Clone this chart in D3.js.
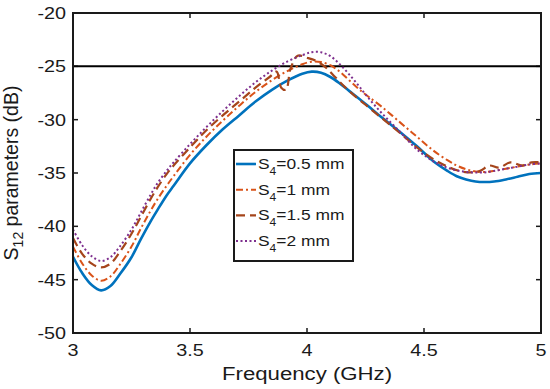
<!DOCTYPE html>
<html>
<head>
<meta charset="utf-8">
<script src="https://cdn.jsdelivr.net/npm/d3@7"></script>
<style>
  html, body { margin: 0; padding: 0; background: #fff; }
  text { font-family: "Liberation Sans", Arial, sans-serif; fill: #1a1a1a; }
</style>
</head>
<body>
<div id="chart"></div>
<script>
const WIDTH = 550;
const HEIGHT = 389;

// frequency grid (GHz) shared by three of the series
const freq = [3.00, 3.04, 3.08, 3.12, 3.16, 3.20, 3.25, 3.29, 3.33, 3.36, 3.40, 3.43, 3.50, 3.57, 3.64, 3.71, 3.78, 3.85, 3.92, 3.98,
              4.02, 4.06, 4.10, 4.14, 4.18, 4.22, 4.26, 4.32, 4.40, 4.47, 4.54, 4.60, 4.64, 4.68, 4.72, 4.76, 4.80, 4.85, 4.90, 4.95, 5.00];

const s4_05 = [-42.85, -44.4, -45.5, -46.0, -45.6, -44.5, -42.9, -41.2, -39.6, -38.5, -37.1, -36.2, -34.1, -32.4, -30.9, -29.6, -28.3, -27.2, -26.3, -25.7,
               -25.5, -25.6, -26.0, -26.6, -27.3, -28.0, -28.7, -29.8, -31.2, -32.5, -33.9, -34.8, -35.3, -35.6, -35.8, -35.85, -35.8, -35.6, -35.35, -35.1, -35.0];

const s4_1 = [-41.9, -43.5, -44.6, -45.1, -44.7, -43.6, -41.9, -40.2, -38.6, -37.5, -36.2, -35.3, -33.3, -31.6, -30.1, -28.7, -27.4, -26.3, -25.4, -24.8,
              -24.56, -24.6, -24.9, -25.5, -26.3, -27.1, -27.8, -28.8, -30.3, -31.6, -32.9, -33.8, -34.3, -34.65, -34.85, -34.9, -34.8, -34.6, -34.4, -34.2, -34.1];

const s4_2 = [-40.3, -41.8, -42.8, -43.25, -42.9, -41.9, -40.3, -38.7, -37.1, -36.0, -34.8, -34.0, -32.3, -30.7, -29.2, -27.8, -26.5, -25.4, -24.5, -23.95,
              -23.68, -23.68, -24.05, -24.8, -25.75, -26.8, -27.9, -29.4, -31.2, -32.8, -33.9, -34.5, -34.75, -34.9, -34.95, -34.95, -34.8, -34.6, -34.4, -34.2, -34.1];

// S4 = 1.5 mm has its own grid (small dip near 3.9 GHz)
const freq15 = [3.00, 3.04, 3.08, 3.12, 3.16, 3.20, 3.25, 3.29, 3.33, 3.36, 3.40, 3.43, 3.50, 3.57, 3.64, 3.71, 3.78, 3.84, 3.87, 3.89, 3.91, 3.93, 3.96,
                4.00, 4.04, 4.08, 4.12, 4.16, 4.20, 4.25, 4.30, 4.35, 4.40, 4.47, 4.54, 4.60, 4.65, 4.70, 4.74, 4.78, 4.82, 4.87, 4.92, 4.96, 5.00];
const s4_15 = [-41.1, -42.6, -43.5, -43.85, -43.5, -42.4, -40.7, -39.1, -37.5, -36.4, -35.1, -34.3, -32.6, -31.0, -29.6, -28.3, -27.0, -26.0, -25.5, -27.0, -27.2, -25.2, -24.0,
               -24.2, -24.5, -25.1, -26.0, -26.9, -27.7, -28.6, -29.5, -30.4, -31.3, -32.6, -33.7, -34.4, -34.8, -34.95, -34.8, -34.3, -34.5, -34.0, -34.3, -34.0, -34.0];

const refLevel = -25;

const xTicks = [3, 3.5, 4, 4.5, 5];
const yTicks = [-20, -25, -30, -35, -40, -45, -50];
const legendLabels = ["=0.5 mm", "=1 mm", "=1.5 mm", "=2 mm"];

const series = [
    { x: freq, y: s4_05, color: "#0072BD", width: 2.6, dash: null },
    { x: freq, y: s4_1, color: "#D95319", width: 2, dash: "7,3,2,3" },
    { x: freq15, y: s4_15, color: "#A5451B", width: 2.2, dash: "9,5" },
    { x: freq, y: s4_2, color: "#7E2F8E", width: 2, dash: "2,2.5" }
];

const margin = { left: 73, top: 13, right: 9, bottom: 56 };
const SX = 1.2; // the picture's text is a bit wide

var svg = d3.select("#chart").append("svg")
    .attr("width", WIDTH)
    .attr("height", HEIGHT);

var xScale = d3.scaleLinear()
    .domain([3, 5])
    .range([margin.left, WIDTH - margin.right]);

var yScale = d3.scaleLinear()
    .domain([-50, -20])
    .range([HEIGHT - margin.bottom, margin.top]);

svg.append("clipPath").attr("id", "plot-clip")
  .append("rect")
    .attr("x", margin.left)
    .attr("y", margin.top)
    .attr("width", xScale(5) - xScale(3))
    .attr("height", yScale(-50) - yScale(-20));

// ticks, inward on all four sides
const tickLen = 5;
var axes = svg.append("g").attr("stroke", "#1a1a1a").attr("stroke-width", 1.5);
xTicks.forEach(t => {
    axes.append("line").attr("x1", xScale(t)).attr("x2", xScale(t)).attr("y1", yScale(-50)).attr("y2", yScale(-50) - tickLen);
    axes.append("line").attr("x1", xScale(t)).attr("x2", xScale(t)).attr("y1", yScale(-20)).attr("y2", yScale(-20) + tickLen);
});
yTicks.forEach(t => {
    axes.append("line").attr("x1", xScale(3)).attr("x2", xScale(3) + tickLen).attr("y1", yScale(t)).attr("y2", yScale(t));
    axes.append("line").attr("x1", xScale(5)).attr("x2", xScale(5) - tickLen).attr("y1", yScale(t)).attr("y2", yScale(t));
});

var line = d3.line()
    .x(d => xScale(d[0]))
    .y(d => yScale(d[1]))
    .curve(d3.curveCatmullRom.alpha(0.5));

var plot = svg.append("g").attr("clip-path", "url(#plot-clip)");

// reference line at -25 dB
plot.append("path")
    .datum([[3, refLevel], [5, refLevel]])
    .attr("fill", "none")
    .attr("stroke", "#000")
    .attr("stroke-width", 2)
    .attr("d", line);

series.forEach(s => {
    plot.append("path")
        .datum(s.x.map((f, i) => [f, s.y[i]]))
        .attr("fill", "none")
        .attr("stroke", s.color)
        .attr("stroke-width", s.width)
        .attr("stroke-dasharray", s.dash)
        .attr("d", line);
});

// frame
svg.append("rect")
    .attr("x", xScale(3))
    .attr("y", yScale(-20))
    .attr("width", xScale(5) - xScale(3))
    .attr("height", yScale(-50) - yScale(-20))
    .attr("fill", "none")
    .attr("stroke", "#1a1a1a")
    .attr("stroke-width", 2);

// tick labels
xTicks.forEach(t => {
    svg.append("text")
        .attr("transform", `translate(${xScale(t)},${yScale(-50) + 23}) scale(${SX},1)`)
        .attr("text-anchor", "middle")
        .attr("font-size", 16.5)
        .text(t);
});
yTicks.forEach(t => {
    svg.append("text")
        .attr("transform", `translate(${xScale(3) - 7},${yScale(t) + 6}) scale(${SX},1)`)
        .attr("text-anchor", "end")
        .attr("font-size", 16.5)
        .text(t);
});

// axis labels
svg.append("text")
    .attr("transform", `translate(${(xScale(3) + xScale(5)) / 2},${HEIGHT - 9}) scale(${SX},1)`)
    .attr("text-anchor", "middle")
    .attr("font-size", 18.5)
    .text("Frequency (GHz)");

var yLab = svg.append("text")
    .attr("transform", `translate(18,${(yScale(-20) + yScale(-50)) / 2}) scale(1.05,1) rotate(-90)`)
    .attr("text-anchor", "middle")
    .attr("font-size", 19.5);
yLab.append("tspan").text("S");
yLab.append("tspan").attr("font-size", 14).attr("dy", 5).text("12");
yLab.append("tspan").attr("dy", -5).text(" parameters (dB)");

// legend
var legend = svg.append("g");
legend.append("rect")
    .attr("x", 234)
    .attr("y", 150)
    .attr("width", 119)
    .attr("height", 111)
    .attr("fill", "#fff")
    .attr("stroke", "#1a1a1a")
    .attr("stroke-width", 2);

series.forEach((s, i) => {
    const cy = 164 + i * 25.7;
    legend.append("line")
        .attr("x1", 236).attr("x2", 256)
        .attr("y1", cy).attr("y2", cy)
        .attr("stroke", s.color)
        .attr("stroke-width", s.width)
        .attr("stroke-dasharray", s.dash);
    const t = legend.append("text")
        .attr("transform", `translate(258,${cy + 5}) scale(${SX},1)`)
        .attr("font-size", 14.5);
    t.append("tspan").text("S");
    t.append("tspan").attr("font-size", 10).attr("dy", 6).text("4");
    t.append("tspan").attr("dy", -6).text(legendLabels[i]);
});
</script>
</body>
</html>
